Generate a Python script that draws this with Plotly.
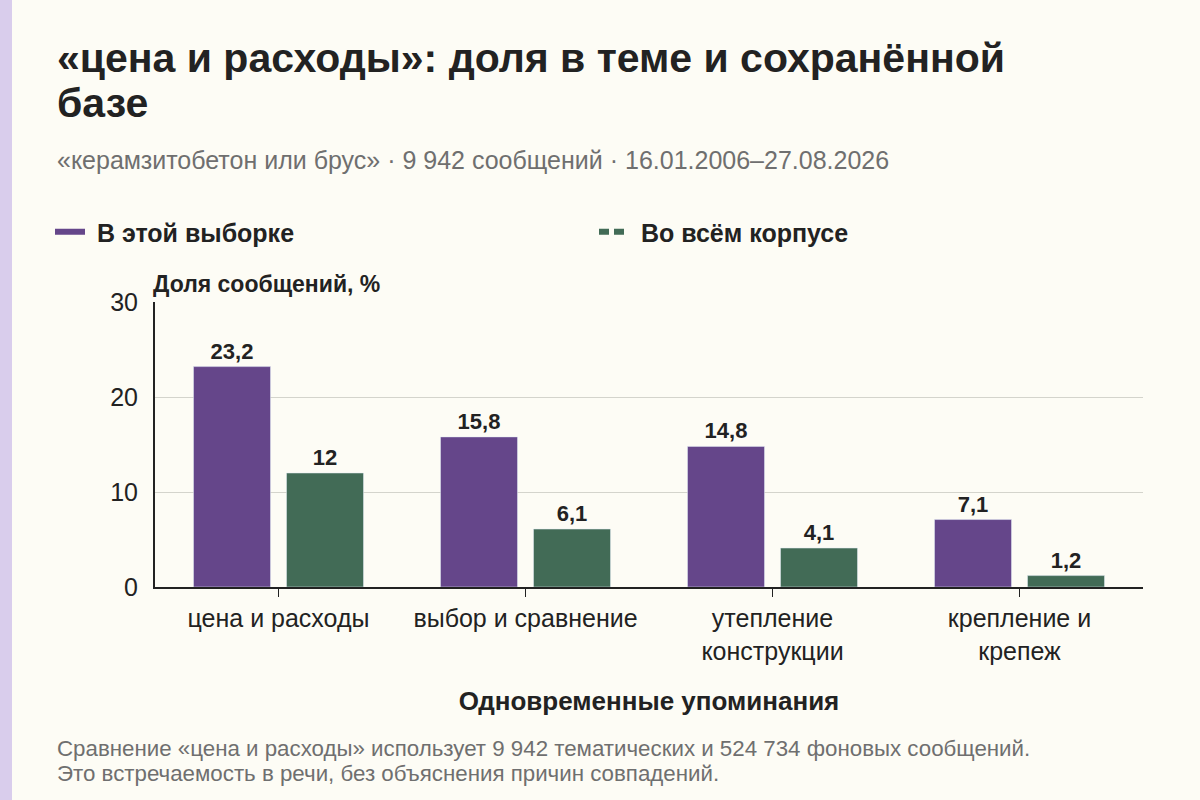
import plotly.graph_objects as go

# --- DATA ---
categories = ["цена и расходы", "выбор и сравнение", "утепление<br>конструкции", "крепление и<br>крепеж"]
sample_share = [23.2, 15.8, 14.8, 7.1]
corpus_share = [12, 6.1, 4.1, 1.2]
sample_name = "В этой выборке"
corpus_name = "Во всём корпусе"

title_lines = ["«цена и расходы»: доля в теме и сохранённой", "базе"]
subtitle = "«керамзитобетон или брус» · 9 942 сообщений · 16.01.2006–27.08.2026"
note_lines = [
    "Сравнение «цена и расходы» использует 9 942 тематических и 524 734 фоновых сообщений.",
    "Это встречаемость в речи, без объяснения причин совпадений.",
]

PURPLE = "#65468a"
GREEN = "#426b56"
BG = "#fdfcf5"
INK = "#222222"
GREY = "#6f6f6f"
FONT = "Liberation Sans, Arial, sans-serif"


def fmt(v):
    return f"{v:g}".replace(".", ",")


def py(px):
    # page y pixel -> paper y (plot area 302..587)
    return (587 - px) / 285


def px_(x):
    # page x pixel -> paper x (plot area 155..1143)
    return (x - 155) / 988


fig = go.Figure()
fig.add_trace(go.Bar(
    x=categories, y=sample_share, name=sample_name,
    marker_color=PURPLE, showlegend=False,
    text=[fmt(v) for v in sample_share], textposition="outside",
    textfont=dict(size=22, color=INK, family=FONT, weight="bold"),
    cliponaxis=False,
))
fig.add_trace(go.Bar(
    x=categories, y=corpus_share, name=corpus_name,
    marker_color=GREEN, showlegend=False,
    text=[fmt(v) for v in corpus_share], textposition="outside",
    textfont=dict(size=22, color=INK, family=FONT, weight="bold"),
    cliponaxis=False,
))
# legend entries as line swatches, one legend each
fig.add_trace(go.Scatter(
    x=[None], y=[None], mode="lines", name="\u00a0" + sample_name, legend="legend",
    line=dict(color=PURPLE, width=6),
))
fig.add_trace(go.Scatter(
    x=[None], y=[None], mode="lines", name="\u00a0" + corpus_name, legend="legend2",
    line=dict(color=GREEN, width=6, dash="10px,5px"),
))

legend_font = dict(size=25, family=FONT, color=INK, weight="bold")
fig.update_layout(
    width=1200, height=800,
    paper_bgcolor=BG, plot_bgcolor=BG,
    font=dict(family=FONT, color=INK),
    margin=dict(l=155, r=57, t=302, b=213),
    barmode="group", bargap=0.247, bargroupgap=0.172,
    showlegend=True,
    legend=dict(
        orientation="h", x=px_(50), xanchor="left", y=py(232), yanchor="middle",
        font=legend_font, itemwidth=30, bgcolor="rgba(0,0,0,0)",
    ),
    legend2=dict(
        orientation="h", x=px_(594), xanchor="left", y=py(232), yanchor="middle",
        font=legend_font, itemwidth=30, bgcolor="rgba(0,0,0,0)",
    ),
    xaxis=dict(
        showline=True, linecolor=INK, linewidth=2,
        ticks="outside", ticklen=8, tickcolor=INK,
        tickfont=dict(size=25, color=INK),
        title=dict(text="<b>Одновременные упоминания</b>", font=dict(size=26), standoff=28),
    ),
    yaxis=dict(
        range=[0, 30], dtick=10,
        showline=True, linecolor=INK, linewidth=2,
        showgrid=True, gridcolor="#d4d4cc", gridwidth=1,
        zeroline=False,
        tickfont=dict(size=25, color=INK),
        ticks="", ticklabelstandoff=10,
    ),
)

# left accent stripe
fig.add_shape(type="rect", xref="paper", yref="paper",
              x0=px_(0), x1=px_(12), y0=py(800), y1=py(0),
              fillcolor="#d9cdec", line_width=0, layer="below")

for line, yc in zip(title_lines, [58, 103]):
    fig.add_annotation(
        text=f"<b>{line}</b>", xref="paper", yref="paper", x=px_(55), y=py(yc),
        xanchor="left", yanchor="middle", align="left", showarrow=False,
        font=dict(size=41, color=INK),
    )
fig.add_annotation(
    text=subtitle, xref="paper", yref="paper", x=px_(55), y=py(160),
    xanchor="left", yanchor="middle", align="left", showarrow=False,
    font=dict(size=25, color=GREY),
)
fig.add_annotation(
    text="<b>Доля сообщений, %</b>",
    xref="paper", yref="paper", x=px_(151), y=py(284),
    xanchor="left", yanchor="middle", showarrow=False,
    font=dict(size=23, color=INK),
)
for line, yc in zip(note_lines, [748, 773]):
    fig.add_annotation(
        text=line, xref="paper", yref="paper", x=px_(55), y=py(yc),
        xanchor="left", yanchor="middle", align="left", showarrow=False,
        font=dict(size=22.3, color=GREY),
    )

fig.write_html(
    "out.html",
    config={"displayModeBar": False},
    post_script="document.body.style.margin='0';document.body.style.background='%s';" % BG,
)
